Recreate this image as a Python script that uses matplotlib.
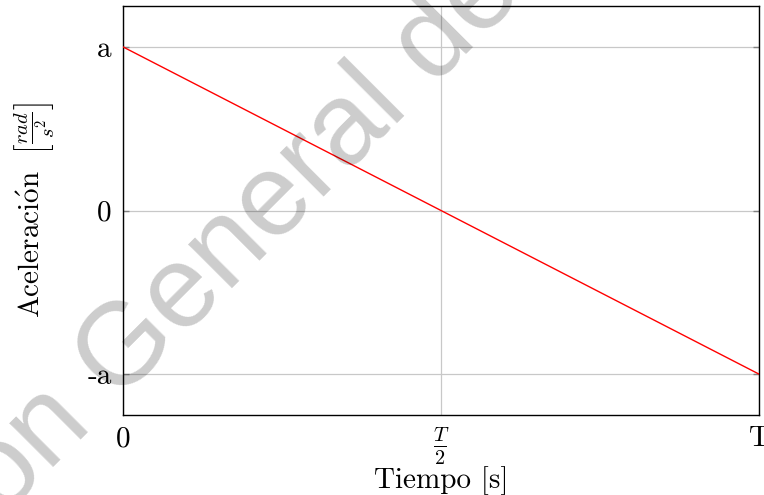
import numpy as np
import matplotlib
matplotlib.use("Agg")
import matplotlib.pyplot as plt

# data (T normalised to 1, a normalised to 1)
tiempo = [0.0, 1.0]
aceleracion = [1.0, -1.0]
xticks = [0.0, 0.5, 1.0]
xtick_labels = ["0", r"$\frac{T}{2}$", "T"]
yticks = [-1.0, 0.0, 1.0]
ytick_labels = ["-a", "0", "a"]

plt.rcParams["font.family"] = ["cmr10", "DejaVu Serif"]
plt.rcParams["mathtext.fontset"] = "cm"
plt.rcParams["axes.unicode_minus"] = False

W, H = 764, 495
fig = plt.figure(figsize=(W / 100, H / 100), dpi=100)
ax = fig.add_axes([123 / W, (H - 415) / H, (759 - 123) / W, (415 - 6) / H])

ax.plot(tiempo, aceleracion, color="red", lw=1.0, zorder=3)

ax.set_xlim(0, 1)
ax.set_ylim(-1.25, 1.25)
ax.set_xticks(xticks)
ax.set_xticklabels(xtick_labels, fontsize=21)
ax.set_yticks(yticks)
ax.set_yticklabels(ytick_labels, fontsize=21)

ax.grid(True, color="#c8c8c8", lw=0.9)
ax.tick_params(direction="in", length=4, color="#808080", width=1.0,
               left=True, right=True, top=False, bottom=False, pad=8)
for s in ax.spines.values():
    s.set_linewidth(1.0)
    s.set_color("black")

ax.set_xlabel("Tiempo [s]", fontsize=21, labelpad=-1)
ax.set_ylabel(r"$\mathrm{Aceleraci\acute{o}n}\ \ \left[\frac{rad}{s^2}\right]$",
              fontsize=21, labelpad=22)

# watermark
fig.text(-250 / W, 1 - 770 / H, "Dirección General de Bibliotecas",
         fontsize=84, family="Liberation Sans", color="black", alpha=0.2,
         rotation=45, rotation_mode="anchor", ha="left", va="baseline", zorder=10)

fig.savefig("out.png", dpi=100)
